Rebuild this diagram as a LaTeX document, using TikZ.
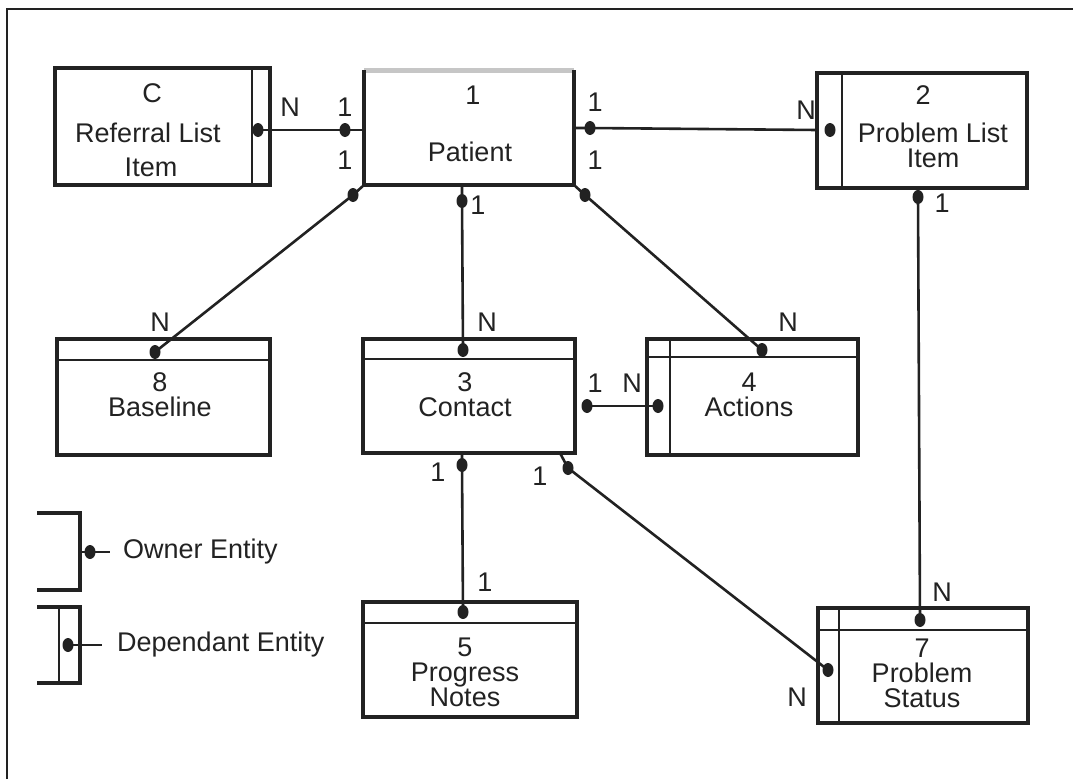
\documentclass[tikz,border=0pt]{standalone}
\usepackage{fontspec}
\setmainfont{Liberation Sans}
\usetikzlibrary{shapes.geometric}
\definecolor{ink}{HTML}{222222}
\begin{document}
\begin{tikzpicture}[x=1pt,y=-1pt,
  box/.style={draw=ink,line width=4pt,rectangle,inner sep=0pt,outer sep=0pt},
  ghost/.style={rectangle,inner sep=0pt,outer sep=0pt},
  sub/.style={draw=ink,line width=2pt},
  conn/.style={draw=ink,line width=2.6pt},
  dot/.style={ellipse,fill=ink,inner sep=0pt,minimum width=11pt,minimum height=14pt},
  lbl/.style={text=ink,font=\fontsize{27}{25}\selectfont,inner sep=0pt,align=center},
]
\useasboundingbox (0,0) rectangle (1073,779);
% frame
\draw[ink,line width=2.5pt] (7,779) -- (7,9) -- (1073,9);

% boxes
\node[box,minimum width=215pt,minimum height=117pt] (ref) at (162.5,126.5) {};
\node[ghost,minimum width=210pt,minimum height=115pt] (pat) at (469,127.5) {};
\node[box,minimum width=210pt,minimum height=115pt] (pli) at (922,130.5) {};
\node[box,minimum width=213pt,minimum height=116pt] (base) at (163.5,397) {};
\node[box,minimum width=212pt,minimum height=114pt] (con) at (469,396) {};
\node[box,minimum width=211pt,minimum height=116pt] (act) at (752.5,397) {};
\node[box,minimum width=214pt,minimum height=115pt] (pn) at (470,659.5) {};
\node[box,minimum width=210pt,minimum height=115pt] (ps) at (923,665.5) {};

% patient outline (faded top)
\draw[gray!45,line width=5pt] (pat.north west) -- (pat.north east);
\draw[ink,line width=4pt] (pat.north west) -- (pat.south west) -- (pat.south east) -- (pat.north east);

% inner strips
\draw[sub] ([xshift=-18pt]ref.north east) -- ([xshift=-18pt]ref.south east);
\draw[sub] ([xshift=25pt]pli.north west) -- ([xshift=25pt]pli.south west);
\draw[sub] ([yshift=-21pt]base.north west) -- ([yshift=-21pt]base.north east);
\draw[sub] ([yshift=-20pt]con.north west) -- ([yshift=-20pt]con.north east);
\draw[sub] ([yshift=-18pt]act.north west) -- ([yshift=-18pt]act.north east);
\draw[sub] ([xshift=23pt]act.north west) -- ([xshift=23pt]act.south west);
\draw[sub] ([yshift=-21pt]pn.north west) -- ([yshift=-21pt]pn.north east);
\draw[sub] ([yshift=-22pt]ps.north west) -- ([yshift=-22pt]ps.north east);
\draw[sub] ([xshift=21pt]ps.north west) -- ([xshift=21pt]ps.south west);

% box texts
\node[lbl] (ref-n) at (152,93) {C};
\node[lbl] (ref-t) at (148,133) {Referral List};
\node[lbl] (ref-t2) at (151,167) {Item};
\node[lbl] (pat-n) at (473,95) {1};
\node[lbl] (pat-t) at (470,152) {Patient};
\node[lbl] (pli-n) at (923,95) {2};
\node[lbl] (pli-t) at (933,145) {Problem List\\Item};
\node[lbl] (base-t) at (160,395) {8\\Baseline};
\node[lbl] (con-t) at (465,395) {3\\Contact};
\node[lbl] (act-t) at (749,395) {4\\Actions};
\node[lbl] (pn-t) at (465,672) {5\\Progress\\Notes};
\node[lbl] (ps-t) at (922,673) {7\\Problem\\Status};

% dots
\node[dot] (dRef) at (258,130) {};
\node[dot] (dPatL) at (345,130) {};
\node[dot] (dPatR) at (590,128) {};
\node[dot] (dPli) at (830,130) {};
\node[dot] (dPatBL) at (353,195) {};
\node[dot] (dBase) at (155,352) {};
\node[dot] (dPatB) at (462,201) {};
\node[dot] (dCon) at (463,350) {};
\node[dot] (dPatBR) at (585,195) {};
\node[dot] (dAct) at (762,350) {};
\node[dot] (dConR) at (587,406) {};
\node[dot] (dActL) at (658,406) {};
\node[dot] (dConB) at (462,465) {};
\node[dot] (dPn) at (463,612) {};
\node[dot] (dConBR) at (568,468) {};
\node[dot] (dPsL) at (828,670) {};
\node[dot] (dPliB) at (918,197) {};
\node[dot] (dPsT) at (920,620) {};

% connectors
\draw[conn] (dRef.center) -- (dPatL.center) -- (dPatL.center -| pat.west);
\draw[conn] (dPatR.center -| pat.east) -- (dPatR.center) -- (dPli.center -| pli.west);
\draw[conn] (pat.south west) -- (dPatBL.center) -- (dBase.center);
\draw[conn] (dPatB.center |- pat.south) -- (dPatB.center) -- (dCon.center);
\draw[conn] (pat.south east) -- (dPatBR.center) -- (dAct.center);
\draw[conn] (dConR.center) -- (dActL.center);
\draw[conn] (dConB.center |- con.south) -- (dConB.center) -- (dPn.center);
\draw[conn] ([xshift=-15pt]con.south east) -- (dConBR.center) -- (dPsL.center);
\draw[conn] (dPliB.center |- pli.south) -- (dPliB.center) -- (dPsT.center);

% cardinality labels
\node[lbl] (c1) at (290,107) {N};
\node[lbl] (c2) at (345,107) {1};
\node[lbl] (c3) at (345,160) {1};
\node[lbl] (c4) at (595,102) {1};
\node[lbl] (c5) at (595,160) {1};
\node[lbl] (c6) at (806,110) {N};
\node[lbl] (c7) at (478,205) {1};
\node[lbl] (c8) at (160,322) {N};
\node[lbl] (c9) at (487,322) {N};
\node[lbl] (c10) at (788,322) {N};
\node[lbl] (c11) at (595,383) {1};
\node[lbl] (c12) at (632,383) {N};
\node[lbl] (c13) at (942,203) {1};
\node[lbl] (c14) at (438,472) {1};
\node[lbl] (c15) at (540,476) {1};
\node[lbl] (c16) at (485,582) {1};
\node[lbl] (c17) at (942,592) {N};
\node[lbl] (c18) at (797,697) {N};

% legend
\draw[ink,line width=4pt] (37,513) -- (80,513) -- (80,590) -- (37,590);
\node[dot] (lgO) at (90,552) {};
\coordinate (lgOe) at (110,552);
\draw[conn] (lgO.center -| 80,0) -- (lgOe);
\node[lbl,anchor=west] (lgOt) at (123,552) {Owner Entity};

\draw[ink,line width=4pt] (37,607) -- (80,607) -- (80,683) -- (37,683);
\draw[sub] (59,607) -- (59,683);
\node[dot] (lgD) at (68,645) {};
\coordinate (lgDe) at (102,645);
\draw[conn] (lgD.center) -- (lgDe);
\node[lbl,anchor=west] (lgDt) at (117,645) {Dependant Entity};
\end{tikzpicture}
\end{document}
